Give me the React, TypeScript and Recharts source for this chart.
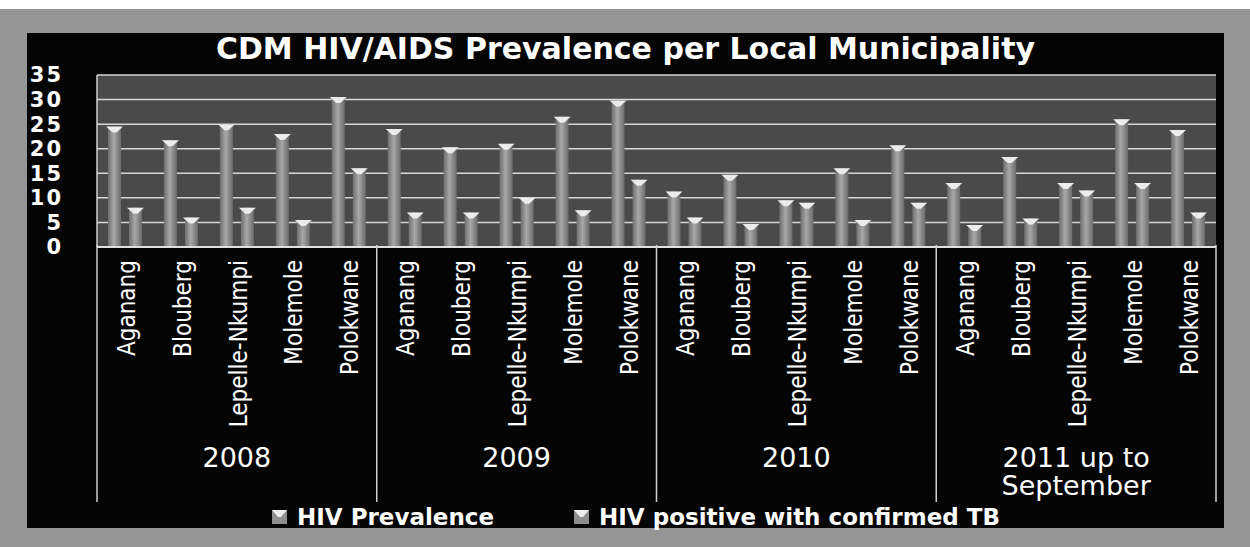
import { Bar, BarChart, CartesianGrid, XAxis, YAxis } from "recharts";

const municipalities = ["Aganang", "Blouberg", "Lepelle-Nkumpi", "Molemole", "Polokwane"];
const years = ["2008", "2009", "2010", "2011 up to\nSeptember"];
const hivPrevalence = [
  24.5, 21.7, 25, 23, 30.5,
  24, 20.3, 21, 26.5, 29.8,
  11.3, 14.7, 9.5, 16, 20.7,
  13, 18.3, 13, 26, 23.8,
];
const hivWithTb = [
  8, 6, 8, 5.5, 16,
  7, 7, 10, 7.5, 13.7,
  6, 4.7, 9, 5.5, 9,
  4.5, 5.8, 11.5, 13, 7,
];
const yTicks = [0, 5, 10, 15, 20, 25, 30, 35];
const seriesNames = ["HIV Prevalence", "HIV positive with confirmed TB"];

const data = years.flatMap((year, yi) =>
  municipalities.map((name, mi) => ({
    key: `${year}|${name}`,
    name,
    year,
    hiv: hivPrevalence[yi * 5 + mi],
    tb: hivWithTb[yi * 5 + mi],
  }))
);

const W = 1250;
const H = 547;
const AXIS_H = 257;

function ConeBar(props: any) {
  const { x, y, width, height } = props;
  if (!height || height <= 0) return null;
  const cx = x + width / 2;
  return (
    <g>
      <rect x={x} y={y} width={width} height={height} fill="url(#barShade)" />
      <polygon
        points={`${x - 2},${y} ${x + width + 2},${y} ${cx + 2},${y + 6} ${cx - 2},${y + 6}`}
        fill="#ececec"
      />
    </g>
  );
}

function MunicipalityTick(props: any) {
  const { x, y, payload, index } = props;
  const half = payload?.offset ?? 28;
  const row = data[index] ?? data.find((d) => d.key === payload.value);
  const top = y - 2;
  const lines = row.year.split("\n");
  const mi = index % 5;
  return (
    <g>
      <text
        transform={`translate(${x + 1},${top + 15}) rotate(-90)`}
        textAnchor="end"
        dy="0.36em"
        fill="#ffffff"
        fontSize={24}
        fontFamily="'DejaVu Sans Condensed', 'Liberation Sans Narrow', sans-serif"
      >
        {row.name}
      </text>
      {mi === 0 && (
        <line x1={x - half} y1={top} x2={x - half} y2={top + AXIS_H} stroke="#d0d0d0" strokeWidth={1.5} />
      )}
      {index === data.length - 1 && (
        <line x1={x + half} y1={top} x2={x + half} y2={top + AXIS_H} stroke="#d0d0d0" strokeWidth={1.5} />
      )}
      {mi === 2 &&
        lines.map((line: string, li: number) => (
          <text
            key={line}
            x={x}
            y={top + 222 + li * 28}
            textAnchor="middle"
            fill="#ffffff"
            fontSize={27}
            fontFamily="'DejaVu Sans', sans-serif"
          >
            {line}
          </text>
        ))}
    </g>
  );
}

function LegendIcon() {
  return (
    <svg width={15} height={14} style={{ marginRight: 10 }}>
      <rect x={0} y={0} width={15} height={14} fill="#8e8e8e" />
      <polygon points="0,0 15,0 9,7 6,7" fill="#ececec" />
    </svg>
  );
}

export default function App() {
  return (
    <div style={{ position: "absolute", left: 0, top: 0, width: W, height: H, background: "#959595", overflow: "hidden" }}>
      <div style={{ position: "absolute", left: 0, top: 0, width: W, height: 9, background: "#ffffff" }} />
      <div style={{ position: "absolute", left: 27, top: 33, width: 1197, height: 495, background: "#050505" }} />
      <div
        style={{
          position: "absolute",
          left: 27,
          top: 32,
          width: 1197,
          textAlign: "center",
          color: "#ffffff",
          fontFamily: "'DejaVu Sans', sans-serif",
          fontWeight: 700,
          fontSize: 30,
          lineHeight: "34px",
        }}
      >
        CDM HIV/AIDS Prevalence per Local Municipality
      </div>
      <div style={{ position: "absolute", left: 0, top: 0 }}>
        <BarChart
          width={W}
          height={H}
          data={data}
          margin={{ top: 75, right: 34, left: 27, bottom: H - 75 - 172 - AXIS_H }}
          barSize={13}
          barGap={8}
        >
          <defs>
            <linearGradient id="barShade" x1="0" y1="0" x2="1" y2="0">
              <stop offset="0%" stopColor="#6e6e6e" />
              <stop offset="45%" stopColor="#a8a8a8" />
              <stop offset="100%" stopColor="#6a6a6a" />
            </linearGradient>
          </defs>
          <CartesianGrid
            vertical={false}
            stroke="#d6d6d6"
            strokeWidth={1.5}
            fill="#4a4a4a"
            fillOpacity={1}
          />
          <XAxis
            dataKey="key"
            interval={0}
            height={AXIS_H}
            tickLine={false}
            tickSize={0}
            tickMargin={0}
            axisLine={{ stroke: "#e0e0e0", strokeWidth: 2 }}
            tick={<MunicipalityTick />}
          />
          <YAxis
            width={70}
            domain={[0, 35]}
            ticks={yTicks}
            interval={0}
            tickLine={false}
            tickSize={6}
            tickMargin={28}
            axisLine={{ stroke: "#d0d0d0", strokeWidth: 1.5 }}
            tick={{ fill: "#ffffff", fontSize: 21, fontWeight: 700, letterSpacing: 2, fontFamily: "'DejaVu Sans', sans-serif" }}
          />
          <Bar dataKey="hiv" name={seriesNames[0]} shape={<ConeBar />} isAnimationActive={false} />
          <Bar dataKey="tb" name={seriesNames[1]} shape={<ConeBar />} isAnimationActive={false} />
        </BarChart>
      </div>
      <div
        style={{
          position: "absolute",
          left: 27,
          top: 504,
          width: 1218,
          display: "flex",
          justifyContent: "center",
          alignItems: "center",
          gap: 80,
          color: "#ffffff",
          fontFamily: "'DejaVu Sans', sans-serif",
          fontWeight: 700,
          fontSize: 23,
          lineHeight: "26px",
        }}
      >
        {seriesNames.map((s) => (
          <div key={s} style={{ display: "flex", alignItems: "center" }}>
            <LegendIcon />
            <span>{s}</span>
          </div>
        ))}
      </div>
    </div>
  );
}
